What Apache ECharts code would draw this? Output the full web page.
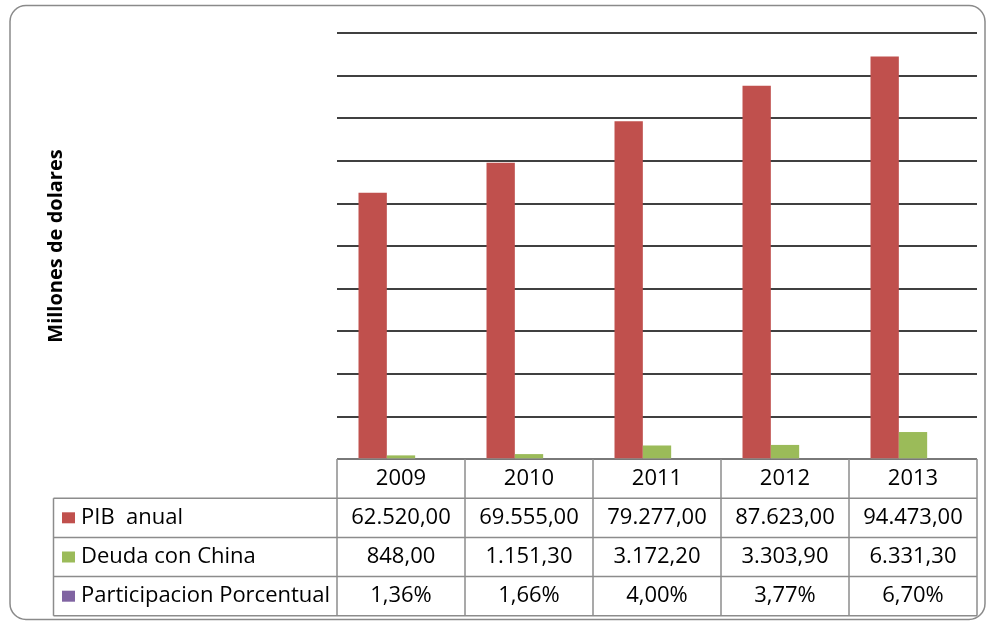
<!DOCTYPE html>
<html><head><meta charset="utf-8">
<script src="https://cdn.jsdelivr.net/npm/echarts@6/dist/echarts.min.js"></script>
<style>html,body{margin:0;padding:0;background:#fff}#c{width:991px;height:625px}</style>
</head><body><div id="c"></div><script>
const years = ['2009', '2010', '2011', '2012', '2013'];
const pib = [62520, 69555, 79277, 87623, 94473];
const deuda = [848, 1151.3, 3172.2, 3303.9, 6331.3];
const participacion = [1.36, 1.66, 4.00, 3.77, 6.70];
const seriesNames = ['PIB  anual', 'Deuda con China', 'Participacion Porcentual'];
const colors = ['#C0504D', '#9BBB59', '#8064A2'];
const yTitle = 'Millones de dolares';
const yMax = 100000, yStep = 10000;

const FONT = '"Open Sans", sans-serif';
function fmtNum(v) {
  let [i, d] = v.toFixed(2).split('.');
  i = i.replace(/\B(?=(\d{3})+(?!\d))/g, '.');
  return i + ',' + d;
}
function fmtPct(v) { return v.toFixed(2).replace('.', ',') + '%'; }
const seriesData = [pib, deuda, participacion];
const rowTexts = [pib.map(fmtNum), deuda.map(fmtNum), participacion.map(fmtPct)];

const chart = echarts.init(document.getElementById('c'), null, {renderer: 'canvas'});
chart.setOption({
  animation: false,
  backgroundColor: '#fff',
  grid: {left: 337, right: 14, top: 33, bottom: 166},
  xAxis: {
    type: 'category', data: years,
    axisLine: {show: false}, axisTick: {show: false}, axisLabel: {show: false}
  },
  yAxis: {
    type: 'value', min: 0, max: yMax, interval: yStep,
    axisLine: {show: false}, axisTick: {show: false}, axisLabel: {show: false},
    splitLine: {show: true, lineStyle: {color: '#000', width: 1.5}},
    name: yTitle, nameLocation: 'middle', nameGap: 271, nameRotate: 90,
    nameTextStyle: {fontFamily: FONT, fontWeight: 'bold', fontSize: 20, color: '#000'}
  },
  series: seriesNames.map((n, i) => ({
    type: 'bar', name: n, data: seriesData[i],
    barGap: '0%', barCategoryGap: '33.6%',
    itemStyle: {color: colors[i]}
  }))
});

const rect = chart.getModel().getComponent('grid').coordinateSystem.getRect();
const gx = rect.x, gy = rect.y, gw = rect.width, gh = rect.height;
const colW = gw / years.length;
const rowH = 39.2;
const tableLeft = 53.5;
const y0 = gy + gh;
const right = gx + gw;
const lineStyle = {stroke: '#8c8c8c', lineWidth: 1.5};
const g = [];
g.push({type: 'rect', shape: {x: 10, y: 5.5, width: 975, height: 614, r: 16},
  style: {fill: null, stroke: '#8a8a8a', lineWidth: 1.5}, z: 0});
g.push({type: 'line', shape: {x1: gx, y1: y0, x2: right, y2: y0}, style: lineStyle, z: 10});
for (let k = 1; k <= 4; k++) {
  g.push({type: 'line', shape: {x1: tableLeft, y1: y0 + rowH * k, x2: right, y2: y0 + rowH * k}, style: lineStyle, z: 10});
}
for (let j = 0; j <= years.length; j++) {
  g.push({type: 'line', shape: {x1: gx + colW * j, y1: y0, x2: gx + colW * j, y2: y0 + rowH * 4}, style: lineStyle, z: 10});
}
g.push({type: 'line', shape: {x1: tableLeft, y1: y0 + rowH, x2: tableLeft, y2: y0 + rowH * 4}, style: lineStyle, z: 10});
const textStyle = (t, x, y, align) => ({type: 'text', x: x, y: y, z: 11,
  style: {text: t, fill: '#000', font: '22px ' + FONT, textAlign: align, textVerticalAlign: 'middle'}});
years.forEach((yr, j) => g.push(textStyle(yr, gx + colW * (j + 0.5), y0 + rowH * 0.5, 'center')));
rowTexts.forEach((row, r) => {
  const cy = y0 + rowH * (r + 1.5);
  g.push({type: 'rect', shape: {x: 62, y: cy - 5.5, width: 13, height: 11}, style: {fill: colors[r]}, z: 11});
  g.push(textStyle(seriesNames[r], 81, cy, 'left'));
  row.forEach((t, j) => g.push(textStyle(t, gx + colW * (j + 0.5), cy, 'center')));
});
chart.setOption({graphic: g});
</script></body></html>
